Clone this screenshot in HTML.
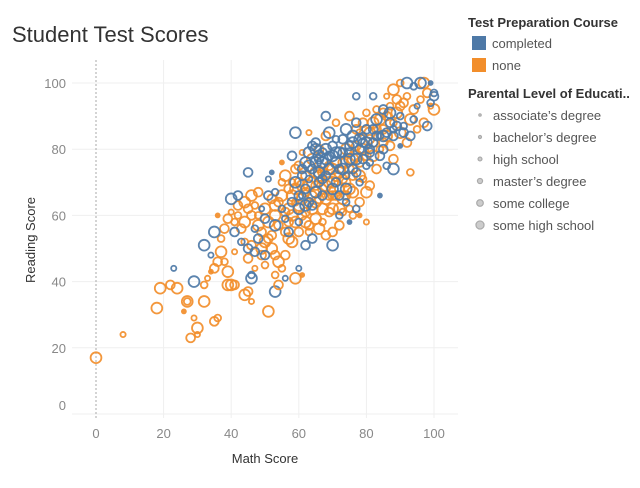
<!DOCTYPE html>
<html><head><meta charset="utf-8"><style>
body{margin:0;background:#fff;font-family:"Liberation Sans",sans-serif;}
svg text{font-family:"Liberation Sans",sans-serif;}
</style></head><body>
<svg width="640" height="483" xmlns="http://www.w3.org/2000/svg">
<text x="12" y="42" font-size="22" fill="#333">Student Test Scores</text>
<g id="grid"></g>
<g id="axes"></g>
<g id="marks"></g>
<text x="265" y="463" font-size="13" fill="#333" text-anchor="middle">Math Score</text>
<text transform="translate(35,240) rotate(-90)" font-size="13" fill="#333" text-anchor="middle">Reading Score</text>
<g>
<text x="468" y="27" font-size="13" fill="#333" font-weight="bold">Test Preparation Course</text>
<rect x="472" y="36" width="14" height="14" fill="#4e79a7"/>
<text x="492" y="48" font-size="13" fill="#555">completed</text>
<rect x="472" y="58" width="14" height="14" fill="#f28e2b"/>
<text x="492" y="70" font-size="13" fill="#555">none</text>
<text x="468" y="98" font-size="13" fill="#333" font-weight="bold">Parental Level of Educati..</text>
<g id="sizeLegend"></g>
</g>
</svg>
<script>
const xTicks=[0,20,40,60,80,100];
const yTicks=[0,20,40,60,80,100];
const eduLevels=["associate’s degree","bachelor’s degree","high school","master’s degree","some college","some high school"];
const prepLevels=["completed","none"];
// [math, reading, prep (0=completed,1=none), education index]
const students=[
[0,17,1,5],[8,24,1,2],[18,32,1,5],[19,38,1,5],[22,39,1,4],[24,38,1,5],[27,34,1,5],[27,34,1,3],[26,31,1,1],[28,23,1,4],[29,29,1,2],[30,26,1,5],[30,24,1,2],[32,34,1,5],[32,39,1,3],[35,28,1,4],[36,29,1,3],[29,40,0,5],[23,44,0,2],[33,41,1,2],[34,43,1,1],[35,44,1,4],[36,46,1,4],[37,49,1,5],[38,46,1,3],[39,43,1,5],[39,39,1,5],[40,39,1,5],[41,39,1,4],[44,36,1,5],[45,37,1,4],[46,34,1,2],[51,31,1,5],[53,37,0,5],[54,39,1,4],[56,41,0,2],[59,41,1,5],[60,44,0,2],[61,42,1,1],
[40,61,1,2],[41,58,1,3],[42,63,1,4],[44,64,1,5],[45,62,1,4],[46,66,1,5],[48,67,1,4],[48,60,1,3],[49,55,1,4],[50,52,1,5],[52,54,1,4],[53,60,1,5],[54,64,1,4],[55,70,1,3],[56,72,1,5],[57,68,1,4],[58,66,1,5],[59,74,1,4],[60,63,1,5],[61,60,1,4],[62,58,1,5],[63,57,1,4],[64,62,1,5],[65,69,1,4],[66,72,1,5],[67,68,1,4],[68,65,1,5],[69,61,1,4],[70,66,1,4],[71,72,1,5],[72,68,1,4],[73,65,1,5],[74,70,1,4],[75,74,1,4],[76,77,1,5],[77,81,1,4],[78,85,1,3],[79,88,1,4],[80,91,1,3],[81,83,1,4],[82,78,1,5],[83,74,1,4],[84,80,1,3],[85,86,1,4],[86,90,1,4],[87,93,1,3],[88,98,1,5],[89,95,1,4],[90,100,1,3],[91,94,1,4],[93,89,1,5],[95,86,1,3],[97,88,1,4],[100,92,1,5],[99,93,1,2],[97,100,1,5],[93,73,1,3],[88,77,1,4],[85,82,1,4],[80,67,1,5],[78,64,1,4],[76,60,1,3],[70,55,1,4],[68,54,1,4],[66,56,1,5],[63,55,1,3],[58,52,1,5],[56,48,1,4],[54,46,1,5],[55,44,1,3],[53,42,1,3],[50,45,1,3],[47,44,1,2],[45,47,1,4],[44,52,1,3],[43,56,1,4],[42,60,1,3],[38,56,1,4],[37,53,1,3],[39,59,1,4],[51,58,1,5],[57,62,1,5],[62,67,1,4],[65,64,1,5],[69,70,1,5],[73,76,1,4],[72,62,1,5],[74,66,1,4],[79,71,1,3],[81,69,1,4],[68,84,1,4],[66,80,1,4],[64,77,1,5],[60,75,1,4],[58,70,1,3],[71,88,1,3],[75,90,1,4],[83,92,1,3],[86,96,1,2],[90,85,1,5],[92,82,1,4],[82,88,1,5],[77,86,1,4],[74,80,1,5],[70,74,1,5],[67,73,1,4],[61,69,1,5],[59,64,1,3],[57,58,1,4],[52,50,1,5],[49,48,1,4],[46,51,1,4],[36,60,1,1],[41,49,1,2],[47,63,1,3],[55,76,1,1],[61,79,1,2],[66,74,1,3],[63,85,1,2],[72,57,1,4],[75,62,1,3],[78,60,1,1],[80,58,1,2],
[44,58,1,5],[46,60,1,4],[48,57,1,5],[50,62,1,5],[52,65,1,4],[53,63,1,5],[55,66,1,5],[56,61,1,4],[58,60,1,5],[59,68,1,5],[60,70,1,4],[61,65,1,5],[62,72,1,4],[63,69,1,5],[64,66,1,4],[65,73,1,5],[66,65,1,4],[67,62,1,5],[68,69,1,5],[69,75,1,4],[70,70,1,5],[71,66,1,4],[72,73,1,5],[73,71,1,4],[74,76,1,5],[75,68,1,5],[76,72,1,4],[77,78,1,5],[78,76,1,4],[79,80,1,5],[80,78,1,4],[81,85,1,5],[82,82,1,4],[83,86,1,4],[84,89,1,5],[85,91,1,4],[86,84,1,5],[87,81,1,4],[88,88,1,3],[89,91,1,5],[90,93,1,4],[92,96,1,3],[94,92,1,4],[96,95,1,3],[98,97,1,4],[54,57,1,4],[51,53,1,4],[49,50,1,5],[53,48,1,4],[57,53,1,5],[60,55,1,4],[62,61,1,4],[65,59,1,5],[67,58,1,3],[70,62,1,5],[73,61,1,3],[76,67,1,5],[78,72,1,5],[64,70,1,5],[59,58,1,5],[56,55,1,4],[69,66,1,4],
[62,76,0,5],[63,79,0,5],[64,81,0,4],[65,76,0,5],[66,73,0,5],[67,79,0,4],[68,77,0,5],[69,74,0,5],[70,81,0,4],[71,76,0,5],[72,79,0,5],[73,83,0,4],[74,86,0,5],[75,81,0,4],[76,84,0,5],[77,88,0,4],[78,83,0,5],[79,77,0,4],[80,82,0,5],[81,80,0,4],[82,86,0,4],[83,89,0,5],[84,78,0,4],[86,85,0,4],[87,91,0,5],[88,86,0,3],[89,87,0,4],[91,85,0,4],[61,74,0,4],[60,66,0,4],[59,70,0,5],[62,63,0,5],[65,67,0,5],[67,71,0,4],[70,68,0,5],[72,66,0,4],[74,68,0,5],[76,74,0,4],[63,75,0,5],[66,78,0,5],[68,80,0,5],[69,78,0,4],[71,79,0,5],[73,74,0,5],[75,79,0,4],[77,77,0,5],[79,82,0,4],[81,79,0,4],[83,84,0,4],[85,84,0,5],
[32,51,0,5],[34,48,0,2],[35,55,0,5],[40,65,0,5],[42,66,0,4],[41,55,0,4],[43,52,0,3],[45,73,0,4],[45,50,0,4],[46,41,0,5],[46,42,0,3],[47,49,0,4],[49,62,0,2],[51,66,0,4],[51,71,0,2],[52,73,0,1],[50,48,0,4],[53,67,0,3],[56,59,0,3],[58,78,0,4],[59,85,0,5],[61,72,0,4],[62,51,0,4],[64,53,0,4],[65,82,0,4],[68,90,0,4],[69,85,0,5],[70,51,0,5],[72,60,0,3],[74,64,0,3],[75,58,0,1],[77,96,0,3],[77,62,0,3],[78,70,0,3],[80,75,0,3],[82,96,0,3],[84,66,0,1],[85,92,0,4],[86,75,0,3],[88,74,0,5],[90,81,0,1],[92,100,0,5],[94,99,0,3],[96,100,0,5],[98,87,0,4],[99,94,0,3],[100,96,0,4],[100,97,0,3],[99,100,0,1],[87,88,0,4],[90,90,0,3],[93,84,0,4],[84,84,0,3],[80,86,0,4],[76,82,0,5],[73,79,0,4],[70,78,0,5],[67,76,0,5],[65,80,0,5],[64,74,0,4],[62,68,0,4],[60,62,0,5],[63,64,0,4],[66,70,0,4],[68,72,0,4],[72,74,0,4],[75,77,0,5],[78,80,0,4],[82,82,0,4],[79,84,0,3],[71,83,0,3],[66,77,0,4],[63,71,0,3],[61,66,0,3],[58,64,0,4],[55,62,0,3],[53,57,0,5],[50,59,0,4],[48,53,0,4],[47,56,0,3],[57,55,0,4],[60,58,0,3],[64,63,0,4],[67,66,0,4],[71,70,0,4],[74,72,0,3],[77,73,0,4],[81,76,0,3],[85,80,0,4],[88,84,0,4],[91,87,0,3],[94,89,0,3],[95,93,0,2]
];
const colors=["#4e79a7","#f28e2b"];
const radii=[1.6,2,2.6,3.4,4.4,5.4];
const X=v=>96+v*3.38;
const Y=v=>414-v*3.31;
const NS="http://www.w3.org/2000/svg";
function mk(t,a,p){const e=document.createElementNS(NS,t);for(const k in a)e.setAttribute(k,a[k]);p.appendChild(e);return e;}
const grid=document.getElementById('grid'),axes=document.getElementById('axes'),marks=document.getElementById('marks');
yTicks.forEach(t=>{
 const l=mk('line',{x1:72,x2:458,y1:Y(t),y2:Y(t),stroke:'#efefef','stroke-width':1},grid);
 
 
 const tx=mk('text',{x:66,y:(t===0?Y(t)-4:Y(t)+5),'font-size':13,fill:'#888','text-anchor':'end'},axes);
 tx.textContent=t;
 
 
});
xTicks.forEach(t=>{
 if(t>0){const l=mk('line',{x1:X(t),x2:X(t),y1:60,y2:418,stroke:'#efefef','stroke-width':1},grid);
 
 }
 const tx=mk('text',{x:X(t),y:438,'font-size':13,fill:'#888','text-anchor':'middle'},axes);
 tx.textContent=t;
 
 
});
const zl=mk('line',{x1:X(0),x2:X(0),y1:60,y2:418,stroke:'#aaa','stroke-width':1,'stroke-dasharray':'2,2'},grid);


students.forEach(s=>{
 const r=radii[s[3]];
 const c=mk('circle',{cx:X(s[0]),cy:Y(s[1]),r:r,fill:r<2.2?colors[s[2]]:'none',stroke:colors[s[2]],'stroke-width':1.8,opacity:0.92},marks);
 
 
});
const sl=document.getElementById('sizeLegend');
eduLevels.forEach((e,i)=>{
 const y=115+i*22;
 const c=mk('circle',{cx:480,cy:y,r:radii[i]*0.75,fill:'#ccc',stroke:'#aaa','stroke-width':1.2},sl);
 
 
 const t=mk('text',{x:493,y:y+5,'font-size':13,fill:'#555'},sl);
 t.textContent=e;
 
 
});
</script>
</body></html>
